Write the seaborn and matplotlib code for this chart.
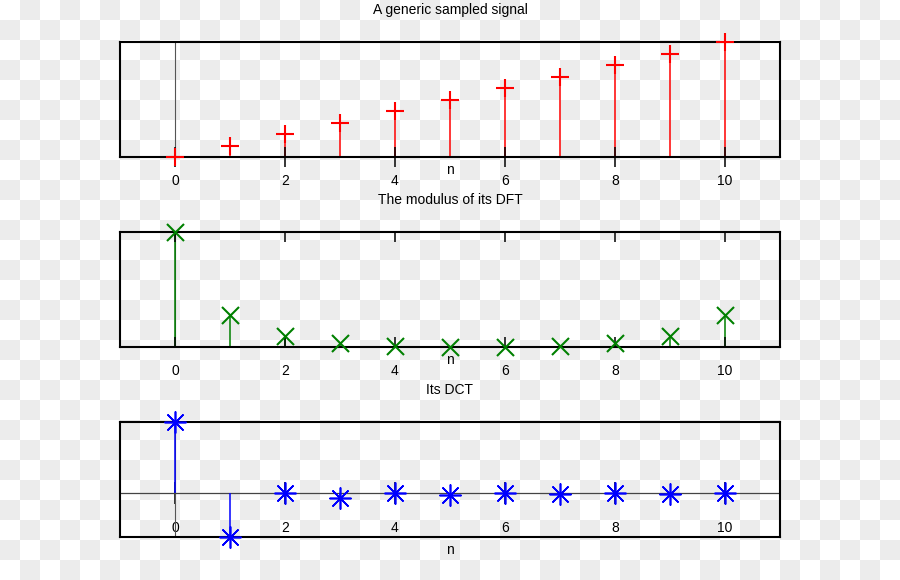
import numpy as np
import matplotlib
matplotlib.use('Agg')
import matplotlib.pyplot as plt
from matplotlib.colors import ListedColormap
import seaborn as sns

# sample index and the three series
n = [0, 1, 2, 3, 4, 5, 6, 7, 8, 9, 10]
ticks = [0, 2, 4, 6, 8, 10]
signal = [0, 1, 2, 3, 4, 5, 6, 7, 8, 9, 10]
dft_mod = [55, 15.5, 5.1, 1.9, 0.4, 0.1, 0.1, 0.4, 1.9, 5.1, 15.5]
dct = [16.6, -10.3, 0.0, -1.2, 0.0, -0.4, 0.0, -0.25, 0.0, -0.15, 0.0]

titles = ['A generic sampled signal', 'The modulus of its DFT', 'Its DCT']

sns.set_theme(style='white')
plt.rcParams['font.family'] = ['Liberation Sans', 'DejaVu Sans']
plt.rcParams['font.size'] = 10
plt.rcParams['text.color'] = 'black'
plt.rcParams['axes.labelcolor'] = 'black'
plt.rcParams['xtick.color'] = 'black'

fig = plt.figure(figsize=(9, 5.8), dpi=100)

# checkerboard backdrop (transparent-image look)
bg = fig.add_axes([0, 0, 1, 1], zorder=-10)
checker = np.indices((29, 45)).sum(axis=0) % 2
bg.imshow(checker, cmap=ListedColormap(['white', '#ececec']),
          extent=(0, 900, 580, 0), interpolation='nearest', aspect='auto')
bg.axis('off')

left, width, height = 120 / 900, 660 / 900, 115 / 580
bottoms = [1 - 157 / 580, 1 - 347 / 580, 1 - 537 / 580]
axes = [fig.add_axes([left, b, width, height]) for b in bottoms]

series = [signal, dft_mod, dct]
colors = ['#ff0000', '#008000', '#0000ff']
markers = ['+', 'x', (8, 2, 0)]
sizes = [150, 150, 230]
widths = [1.5, 1.5, 1.2]
ylims = [(0, 10), (0, 55), (-10.3, 16.6)]

for ax, y, c, m, sz, lw, yl, title in zip(axes, series, colors, markers, sizes,
                                          widths, ylims, titles):
    ax.set_facecolor('none')
    ax.set_axisbelow(False)
    ax.axvline(0, color='#555555', lw=0.8, zorder=1)
    ax.vlines(n, 0, y, colors=c, lw=1.1, zorder=2)
    sns.scatterplot(x=n, y=y, marker=m, color=c, s=sz, linewidth=lw,
                    ax=ax, clip_on=False, zorder=3)
    ax.set_xlim(-1, 11)
    ax.set_ylim(*yl)
    ax.set_yticks([])
    for sp in ax.spines.values():
        sp.set_visible(True)
        sp.set_color('black')
        sp.set_linewidth(1.5)
    ax.set_title(title, pad=20, fontsize=10, color='black')
    ax.set_xlabel('n', fontsize=10, va='baseline', color='black')
    ax.xaxis.set_label_coords(0.5, -17 / 115)

# top panel: ticks crossing the bottom edge
axes[0].set_xticks(ticks)
axes[0].tick_params(axis='x', bottom=True, direction='inout', length=14.4,
                    width=1.1, color='black', labelcolor='black', pad=5, labelsize=10)

# middle panel: inward ticks on bottom and top
axes[1].set_xticks(ticks)
axes[1].tick_params(axis='x', bottom=True, top=True, direction='in', length=7.2,
                    width=1.1, color='black', labelcolor='black', pad=12.2, labelsize=10)

# bottom panel: axis drawn through zero
ax = axes[2]
ax.set_xticks([])
ax.axhline(0, color='#444444', lw=0.9, zorder=1)
sec = ax.secondary_xaxis(0, transform=ax.get_yaxis_transform())
sec.set_xticks(ticks)
sec.spines['bottom'].set_visible(False)
sec.tick_params(axis='x', direction='inout', length=15.8, width=1.1,
                color='black', labelcolor='black', pad=12.3, labelsize=10)

fig.savefig('out.png', dpi=100)
